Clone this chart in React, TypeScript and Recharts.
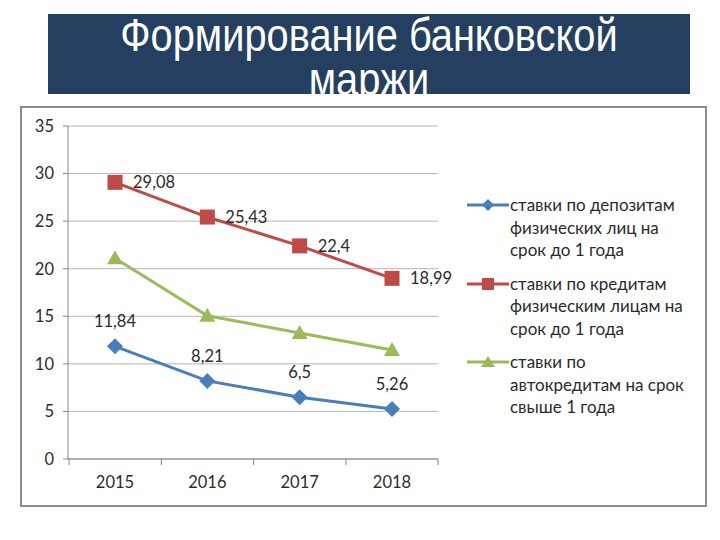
import React from 'react';
import { LineChart, Line, XAxis, YAxis, CartesianGrid, LabelList } from 'recharts';

const years = ['2015', '2016', '2017', '2018'];
const depositRates = [11.84, 8.21, 6.5, 5.26];
const loanRates = [29.08, 25.43, 22.4, 18.99];
const autoLoanRates = [21.1, 15.05, 13.25, 11.45];
const yTicks = [0, 5, 10, 15, 20, 25, 30, 35];
const seriesNames = [
  'ставки по депозитам\nфизических лиц на\nсрок до 1 года',
  'ставки по кредитам\nфизическим лицам на\nсрок до 1 года',
  'ставки по\nавтокредитам на срок\nсвыше 1 года',
];
const titleText = 'Формирование банковской маржи';

const data = years.map((y, i) => ({
  year: y,
  deposit: depositRates[i],
  loan: loanRates[i],
  auto: autoLoanRates[i],
}));

const BLUE = '#4A7EBB';
const RED = '#BE4B48';
const GREEN = '#9BBB59';
const COLORS = [BLUE, RED, GREEN];
const MARKERS = ['diamond', 'square', 'triangle'];
const FONT = 'Lato, "Noto Sans", sans-serif';
const TEXT = '#2b2b2b';
const HALF_BAND = 46;

const fmt = (v: any) => String(v).replace('.', ',');

const Diamond = (p: any) => {
  const { cx, cy } = p;
  if (cx == null || cy == null) return null;
  const r = 8;
  return <polygon key={`d${cx}`} points={`${cx},${cy - r} ${cx + r},${cy} ${cx},${cy + r} ${cx - r},${cy}`} fill={BLUE} />;
};
const Square = (p: any) => {
  const { cx, cy } = p;
  if (cx == null || cy == null) return null;
  const s = 15;
  return <rect key={`s${cx}`} x={cx - s / 2} y={cy - s / 2} width={s} height={s} fill={RED} />;
};
const Triangle = (p: any) => {
  const { cx, cy } = p;
  if (cx == null || cy == null) return null;
  return <polygon key={`t${cx}`} points={`${cx},${cy - 8} ${cx + 8},${cy + 6} ${cx - 8},${cy + 6}`} fill={GREEN} />;
};

const XTick = (props: any) => {
  const { x, y, payload, index, visibleTicksCount } = props;
  const half = HALF_BAND;
  const axisY = y - 17;
  return (
    <g>
      <line x1={x - half} x2={x - half} y1={axisY} y2={axisY + 6} stroke="#888" />
      {index === visibleTicksCount - 1 && (
        <line x1={x + half} x2={x + half} y1={axisY} y2={axisY + 6} stroke="#888" />
      )}
      <text x={x} y={y} dy="0.71em" textAnchor="middle" fill={TEXT} fontSize={16.5} fontFamily={FONT}>
        {payload.value}
      </text>
    </g>
  );
};

const LegendIcon = ({ type, color }: { type: string; color: string }) => (
  <svg width={42} height={14} style={{ display: 'block' }}>
    <line x1={0} x2={42} y1={7} y2={7} stroke={color} strokeWidth={3} />
    {type === 'diamond' && <polygon points="21,1 27,7 21,13 15,7" fill={color} />}
    {type === 'square' && <rect x={15} y={1} width={12} height={12} fill={color} />}
    {type === 'triangle' && <polygon points="21,1 28,12 14,12" fill={color} />}
  </svg>
);

export default function App() {
  return (
    <div style={{ position: 'fixed', left: 0, top: 0, width: 720, height: 540, background: '#fff', overflow: 'hidden' }}>
      <div
        style={{
          position: 'absolute',
          left: 48,
          top: 14,
          width: 642,
          height: 80,
          background: '#243F60',
        }}
      >
        <div
          style={{
            position: 'absolute',
            left: -100,
            top: -1,
            width: 842,
            color: '#fff',
            fontFamily: '"Liberation Sans", Arial, sans-serif',
            fontSize: 46,
            lineHeight: '44px',
            textAlign: 'center',
            transform: 'scaleX(0.865)',
            transformOrigin: '50% 0',
            padding: '0 130px',
            boxSizing: 'border-box',
          }}
        >
          {titleText}
        </div>
      </div>
      <div
        style={{
          position: 'absolute',
          left: 20,
          top: 106,
          width: 687,
          height: 401,
          border: '2px solid #8c8c8c',
          boxSizing: 'border-box',
          background: '#fff',
        }}
      >
        <LineChart width={683} height={397} data={data} margin={{ top: 18, right: 267, bottom: 0, left: 0 }}>
          <CartesianGrid vertical={false} stroke="#b5b5b5" />
          <XAxis
            dataKey="year"
            height={46}
            padding={{ left: HALF_BAND + 1, right: HALF_BAND }}
            axisLine={{ stroke: '#888' }}
            tickLine={false}
            tickSize={0}
            tickMargin={17}
            tick={<XTick />}
            interval={0}
          />
          <YAxis
            width={46}
            domain={[0, 35]}
            ticks={yTicks}
            axisLine={{ stroke: '#888' }}
            tickLine={{ stroke: '#888' }}
            tickSize={5}
            tickMargin={9}
            tick={{ fill: TEXT, fontSize: 16.5, fontFamily: FONT }}
            interval={0}
          />
          <Line
            name={seriesNames[0]}
            dataKey="deposit"
            stroke={BLUE}
            strokeWidth={3}
            dot={<Diamond />}
            activeDot={false}
            isAnimationActive={false}
          >
            <LabelList dataKey="deposit" position="top" offset={19} formatter={fmt} fill={TEXT} fontSize={16.5} fontFamily={FONT} />
          </Line>
          <Line
            name={seriesNames[1]}
            dataKey="loan"
            stroke={RED}
            strokeWidth={3}
            dot={<Square />}
            activeDot={false}
            isAnimationActive={false}
          >
            <LabelList dataKey="loan" position="right" offset={18} formatter={fmt} fill={TEXT} fontSize={16.5} fontFamily={FONT} />
          </Line>
          <Line
            name={seriesNames[2]}
            dataKey="auto"
            stroke={GREEN}
            strokeWidth={3}
            dot={<Triangle />}
            activeDot={false}
            isAnimationActive={false}
          />
        </LineChart>
        <div
          style={{
            position: 'absolute',
            left: 445,
            top: 86,
            width: 240,
            fontFamily: FONT,
            fontSize: 17,
            color: TEXT,
          }}
        >
          {seriesNames.map((name, i) => (
            <div key={i} style={{ display: 'flex', alignItems: 'flex-start', marginBottom: 11 }}>
              <div style={{ paddingTop: 4, marginRight: 1 }}>
                <LegendIcon type={MARKERS[i]} color={COLORS[i]} />
              </div>
              <div style={{ whiteSpace: 'pre-line', lineHeight: '22.5px' }}>{name}</div>
            </div>
          ))}
        </div>
      </div>
    </div>
  );
}
